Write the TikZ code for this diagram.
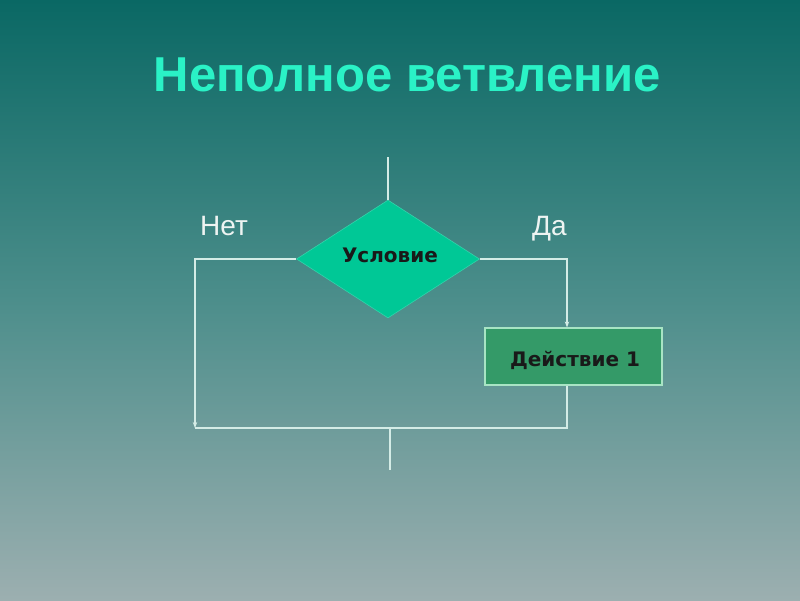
\documentclass[tikz,border=0pt]{standalone}
\usepackage{fontspec}
\setmainfont{Liberation Sans}
\newfontfamily\boxfont{DejaVu Sans}
\usetikzlibrary{shapes.geometric,arrows.meta}
\definecolor{bgtop}{HTML}{0A6864}
\definecolor{bgmid}{HTML}{4C8E8B}
\definecolor{bgbot}{HTML}{9CAFB0}
\definecolor{titlec}{HTML}{2AF2C6}
\definecolor{linec}{HTML}{D4ECE6}
\definecolor{diamc}{HTML}{00C896}
\definecolor{rectc}{HTML}{349A68}
\definecolor{rectb}{HTML}{A8E4C4}
\definecolor{labc}{HTML}{EEF4F2}
\tikzset{
  conn/.style={draw=linec, line width=1.1pt},
  arr/.style={conn, -{Stealth[length=6pt,width=4.5pt]}},
  lbl/.style={text=labc, font=\fontsize{28}{30}\selectfont, inner sep=0pt, anchor=base west},
  cond/.style={diamond, fill=diamc, draw=diamc!80!white, line width=0.6pt, minimum width=183pt, minimum height=118pt, inner sep=0pt, aspect=1.55},
  actbox/.style={rectangle, fill=rectc, draw=rectb, line width=1.2pt, minimum width=177pt, minimum height=57pt, inner sep=0pt},
  boxtxt/.style={font=\boxfont\bfseries\fontsize{20}{22}\selectfont, text=black!90, inner sep=0pt},
}
\begin{document}
\begin{tikzpicture}[x=1pt,y=-1pt]
\useasboundingbox (0,0) rectangle (800,600);
\shade[top color=bgtop, bottom color=bgmid] (0,0) rectangle (800,300);
\shade[top color=bgmid, bottom color=bgbot] (0,300) rectangle (800,600);
\node[text=titlec, font=\bfseries\fontsize{49}{52}\selectfont, inner sep=0pt] (title) at (407,75) {Неполное ветвление};
\node[cond] (c) at (388,259) {};
\node[boxtxt] (ct) at (390,255) {Условие};
\node[actbox] (a) at (573.5,356.5) {};
\node[boxtxt] (at) at (575,360) {Действие 1};
\node[lbl] (no) at (200,235) {Нет};
\node[lbl] (yes) at (532,235) {Да};
\coordinate (top) at (388,157);
\coordinate (lc) at (195,259);
\coordinate (rc) at (567,259);
\coordinate (jl) at (195,428);
\coordinate (jr) at (567,428);
\coordinate (jm) at (390,428);
\coordinate (out) at (390,470);
\draw[conn] (top) -- (c.north);
\draw[arr] (c.west) -- (lc) -- (jl);
\draw[arr] (c.east) -- (rc) -- (a.north -| rc);
\draw[conn] (a.south -| rc) -- (jr) -- (jl);
\draw[conn] (jm) -- (out);
\end{tikzpicture}
\end{document}
